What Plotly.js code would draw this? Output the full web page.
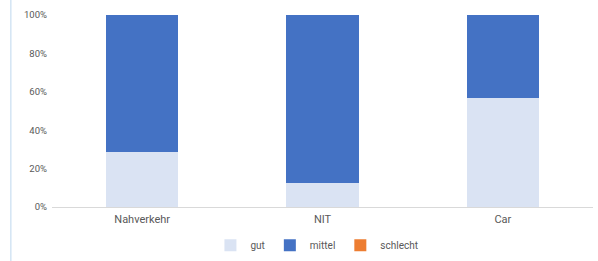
<!DOCTYPE html>
<html>
<head>
<meta charset="utf-8">
<script src="https://cdn.plot.ly/plotly-3.0.1.min.js"></script>
<style>
html,body{margin:0;padding:0;background:#fff;}
#chart{width:598px;height:261px;}
</style>
</head>
<body>
<div id="chart"></div>
<script>
const categories = ["Nahverkehr", "NIT", "Car"];
const gut = [0.285, 0.125, 0.57];
const mittel = [0.715, 0.875, 0.43];
const schlecht = [0, 0, 0];
const yTickVals = [0, 0.2, 0.4, 0.6, 0.8, 1.0];
const yTickText = ["0%", "20%", "40%", "60%", "80%", "100%"];

const font = {family: "Roboto, 'Open Sans', sans-serif", color: "#595959"};

const traces = [
  {type: "bar", name: "gut", x: categories, y: gut, marker: {color: "#DAE3F3", line: {width: 0}}},
  {type: "bar", name: "mittel", x: categories, y: mittel, marker: {color: "#4472C4", line: {width: 0}}},
  {type: "bar", name: "schlecht", x: categories, y: schlecht, marker: {color: "#ED7D31", line: {width: 0}}}
];

const layout = {
  width: 598, height: 261,
  barmode: "stack",
  bargap: 0.6,
  margin: {l: 52, r: 5, t: 15, b: 54},
  paper_bgcolor: "#fff", plot_bgcolor: "#fff",
  font: Object.assign({size: 9}, font),
  xaxis: {
    showgrid: false, showline: true, linecolor: "#D9D9D9", linewidth: 1,
    ticks: "", tickfont: Object.assign({size: 11}, font), fixedrange: true,
    ticklabelstandoff: 2
  },
  yaxis: {
    range: [0, 1], tickvals: yTickVals, ticktext: yTickText,
    showgrid: false, zeroline: false, showline: false, ticks: "",
    tickfont: Object.assign({size: 9.5}, font), ticklabelstandoff: 4, fixedrange: true,
    automargin: false
  },
  legend: {
    orientation: "h", xref: "container", yref: "container",
    x: 0.53, xanchor: "center", y: 0.06, yanchor: "middle",
    font: Object.assign({size: 10}, font), traceorder: "normal",
    itemwidth: 30, tracegroupgap: 0
  },
  showlegend: true,
  shapes: [{
    type: "line", xref: "paper", yref: "paper",
    x0: -0.076, x1: -0.076, y0: -0.29, y1: 1.08,
    line: {color: "#BDD7EE", width: 1}
  }]
};

Plotly.newPlot("chart", traces, layout, {displayModeBar: false, staticPlot: true});
</script>
</body>
</html>
